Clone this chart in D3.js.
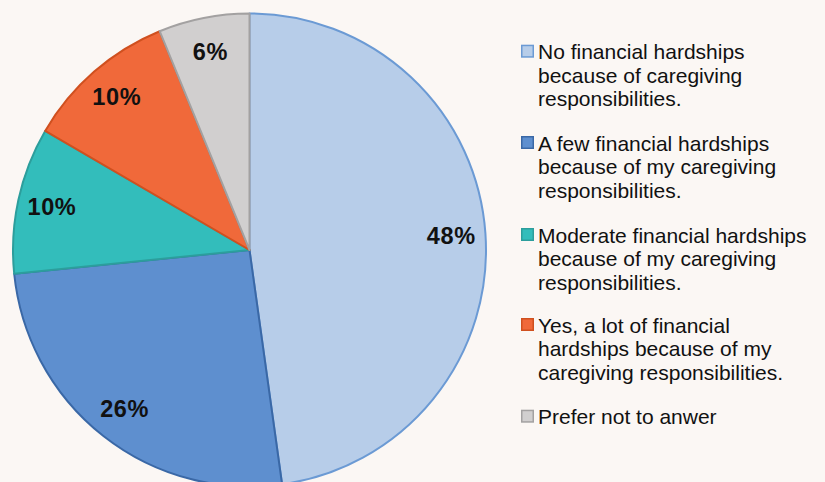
<!DOCTYPE html>
<html><head><meta charset="utf-8">
<script src="https://cdn.jsdelivr.net/npm/d3@7"></script>
<style>html,body{margin:0;padding:0;background:#FBF7F4;}</style>
</head><body>
<svg id="chart" width="825" height="482"></svg>
<script>
const categories = [
  "No financial hardships because of caregiving responsibilities.",
  "A few financial hardships because of my caregiving responsibilities.",
  "Moderate financial hardships because of my caregiving responsibilities.",
  "Yes, a lot of financial hardships because of my caregiving responsibilities.",
  "Prefer not to anwer"
];
const legendLines = [
  ["No financial hardships", "because of caregiving", "responsibilities."],
  ["A few financial hardships", "because of my caregiving", "responsibilities."],
  ["Moderate financial hardships", "because of my caregiving", "responsibilities."],
  ["Yes, a lot of financial", "hardships because of my", "caregiving responsibilities."],
  ["Prefer not to anwer"]
];
const values = [47.8, 25.6, 10.0, 10.4, 6.2];
const fills = ["#B7CDE9", "#5E8FCF", "#33BDBB", "#F0693A", "#D1CFCF"];
const strokes = ["#6B9AD4", "#3A68A6", "#2C9E9C", "#D0501F", "#A3A1A1"];

const svg = d3.select("#chart");
const cx = 249.5, cy = 250, r = 236.5;
const data = categories.map((c, i) => ({cat: c, value: values[i], i}));

const pie = d3.pie().sort(null).value(d => d.value);
const arc = d3.arc().innerRadius(0).outerRadius(r);
const labelArc = d3.arc().innerRadius(r * 0.855).outerRadius(r * 0.855);

const g = svg.append("g").attr("transform", `translate(${cx},${cy})`);
const arcs = pie(data);
g.selectAll("path").data(arcs).join("path")
  .attr("d", arc)
  .attr("fill", d => fills[d.data.i])
  .attr("stroke", d => strokes[d.data.i])
  .attr("stroke-width", 2)
  .attr("stroke-linejoin", "round");

g.selectAll("text").data(arcs).join("text")
  .attr("transform", d => `translate(${labelArc.centroid(d)})`)
  .attr("text-anchor", "middle")
  .attr("dominant-baseline", "central")
  .attr("font-family", "Liberation Sans, Arial, sans-serif")
  .attr("font-size", 23.5)
  .attr("font-weight", "bold")
  .attr("letter-spacing", 0.6)
  .attr("fill", "#111")
  .text(d => Math.round(d.data.value) + "%");

const legend = svg.append("g");
const lx = 521, textX = 538, lineH = 23.6;
const entryY = [51.7, 143, 235, 325, 416.7];
legendLines.forEach((lines, i) => {
  const y0 = entryY[i];
  legend.append("rect")
    .attr("x", lx + 0.75).attr("y", y0 - 6.25)
    .attr("width", 11.5).attr("height", 11.5)
    .attr("fill", fills[i]).attr("stroke", strokes[i]).attr("stroke-width", 1.5);
  const t = legend.append("text")
    .attr("font-family", "Liberation Sans, Arial, sans-serif")
    .attr("font-size", 21)
    .attr("fill", "#111");
  lines.forEach((ln, j) => {
    t.append("tspan").attr("x", textX).attr("y", y0 + j * lineH)
      .attr("dominant-baseline", "central").text(ln);
  });
});
</script>
</body></html>
